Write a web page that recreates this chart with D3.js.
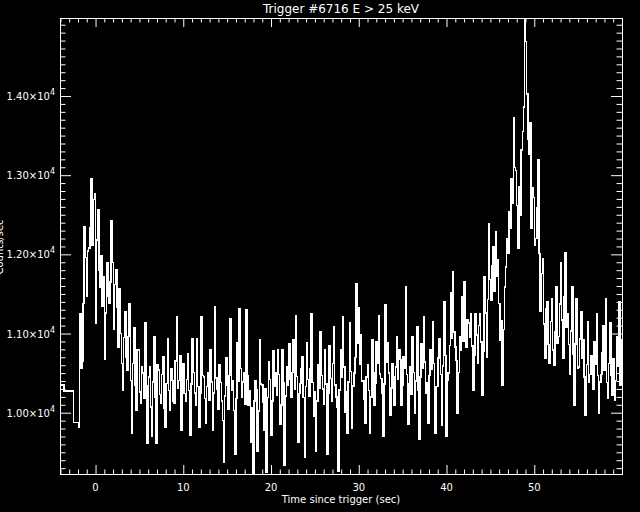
<!DOCTYPE html>
<html>
<head>
<meta charset="utf-8">
<script src="https://cdn.jsdelivr.net/npm/d3@7"></script>
<style>
  body { margin: 0; background: #000; }
  svg { display: block; }
</style>
</head>
<body>
<script>
// chart text
var title = "Trigger #6716 E > 25 keV";
var xTitle = "Time since trigger (sec)";
var yTitle = "Counts/sec";

// axis ticks
var xMajor = [0, 10, 20, 30, 40, 50];
var yMajor = [10000, 11000, 12000, 13000, 14000];
var yLabels = ["1.00", "1.10", "1.20", "1.30", "1.40"];
var xRange = [-4.05, 60];

// coarse bins before the trigger (edges in sec)
var preEdges = [-4.05, -3.62, -2.52, -1.96, -1.80];
var preCounts = [10350, 10274, 9879, 9811];

// fine bins, 0.128 s wide, starting at -1.80 s
var binStart = -1.80;
var binWidth = 0.128;
var counts1 = [ // -1.8 .. 10.2 s
  11250, 10560, 10650, 11380, 12350, 11960, 11470, 12040, 12080, 12330,
  12950, 12120, 12690, 12770, 11130, 12180, 12560, 11800, 11590, 11980,
  11340, 11720, 10670, 11260, 11890, 11470, 11380, 11650, 12420, 11900,
  11050, 11620, 11800, 11330, 10830, 11560, 11000, 10620, 10290, 10950,
  11280, 10700, 10540, 10960, 11380, 10410, 9740, 10620, 11070, 10350,
  10030, 10790, 10790, 10260, 10120, 10580, 10500, 10180, 11130, 10340,
  9610, 10450, 10580, 10070, 9700, 10390, 10960, 10200, 9610, 10610,
  10540, 10230, 10120, 10480, 10710, 10060, 9820, 10370, 10940, 10280,
  10030, 10560, 10410, 10150, 10120, 10650, 11210, 10310, 10410, 10720,
  9780, 10430, 10620, 10240];
var counts2 = [ // 10.2 .. 22.8 s
  10150, 10420, 10750, 10280, 9720, 10360, 10940, 10510, 10250, 10090,
  10940, 10330, 9820, 10240, 11210, 10470, 10450, 10180, 9870, 10330,
  10500, 10160, 10790, 10390, 9780, 10250, 11340, 10440, 10300, 10050,
  10600, 10380, 10150, 9900, 9380, 10210, 10690, 10350, 10050, 10470,
  11190, 10290, 10400, 10030, 9470, 10180, 10880, 10400, 11310, 10560,
  10200, 10390, 10500, 10110, 11300, 10470, 10100, 10280, 9630, 10060,
  9226, 10150, 10410, 10290, 9510, 10020, 10920, 10360, 10350, 10130,
  9780, 10300, 9250, 10190, 10640, 10420, 9720, 10150, 10780, 10330,
  10500, 10220, 10800, 10480, 9860, 10100, 10800, 10380, 9340, 10210,
  10580, 10350, 10870, 10420, 10200, 10510, 10920, 10300];
var counts3 = [ // 22.8 .. 35.3 s
  11230, 10460, 9630, 10240, 10370, 10560, 10710, 10190, 9440, 10330,
  10880, 10420, 10210, 10550, 11250, 10380, 9950, 10260, 9510, 10150,
  10600, 10310, 11020, 10470, 10300, 10110, 10790, 10360, 9470, 10240,
  10850, 10430, 10150, 10620, 11090, 10350, 10200, 10070, 9255, 10290,
  10790, 10450, 11210, 10580, 10000, 10260, 9740, 10390, 11130, 10520,
  9800, 10340, 10500, 10700, 11630, 10880, 11320, 10610, 10980, 10400,
  10400, 10170, 9870, 10450, 10600, 10280, 9740, 10200, 10920, 10510,
  10100, 10370, 10900, 10620, 11230, 10490, 10430, 10250, 9700, 10360,
  11360, 10640, 10880, 10500, 9970, 10310, 10620, 10460, 10100, 10580,
  10960, 10420, 10800, 10670, 10100, 10350, 10710, 10560];
var counts4 = [ // 35.3 .. 47.9 s
  11590, 10480, 9850, 10360, 10580, 10230, 10960, 10510, 9990, 10400,
  11090, 10290, 9670, 10450, 10870, 10560, 11210, 10640, 10240, 10380,
  9870, 10470, 10800, 10550, 11150, 10620, 9740, 10330, 10330, 10690,
  10940, 10480, 9840, 10590, 11400, 10720, 9700, 10410, 10500, 10850,
  11510, 10940, 11780, 11020, 10830, 10660, 9990, 10510, 10960, 10790,
  11460, 10900, 11650, 11080, 10830, 11170, 11130, 10950, 11250, 10840,
  10290, 10720, 11250, 10980, 10620, 11100, 11250, 10890, 10220, 10780,
  11720, 11260, 10700, 11430, 12390, 11680, 11420, 11850, 12100, 11530,
  12290, 11720, 11930, 11380, 10920, 11160, 10350, 11050, 11590, 11840,
  12200, 12010, 12540, 12330, 12960, 12650, 13720, 13100];
var counts5 = [ // 47.9 .. 60.1 s
  13060, 12620, 12080, 12850, 12500, 13320, 13550, 13860, 14985, 14690,
  14025, 13450, 13270, 13660, 12330, 12840, 12720, 12120, 12200, 12590,
  13190, 12010, 11280, 11760, 11950, 11120, 10690, 11310, 11400, 10860,
  10620, 11150, 11440, 10790, 10600, 11020, 11590, 10880, 10960, 11370,
  11890, 11170, 10690, 11460, 12020, 11080, 11250, 10860, 10480, 11030,
  11590, 10740, 10100, 10870, 11440, 10560, 10580, 10930, 11280, 10690,
  10920, 10450, 9970, 10610, 11150, 10380, 10480, 10720, 10560, 10300,
  10900, 10610, 11250, 10470, 9990, 10390, 10480, 10760, 11100, 10540,
  11440, 10380, 10180, 10620, 11130, 10470, 10220, 10680, 10160, 10410,
  10960, 10590, 11400, 10350, 10920, 10550];

function draw_graph() {
  var width = 640, height = 512;
  var margin = { top: 18, right: 18, bottom: 38, left: 60 };
  var w = width - margin.left - margin.right;
  var h = height - margin.top - margin.bottom;

  // step points (bin start + value), closed with the last bin end
  var pts = [];
  for (var i = 0; i < preCounts.length; i++) {
    pts.push({ t: preEdges[i], v: preCounts[i] });
  }
  var fine = counts1.concat(counts2, counts3, counts4, counts5);
  for (var j = 0; j < fine.length; j++) {
    pts.push({ t: binStart + j * binWidth, v: fine[j] });
  }
  pts.push({ t: binStart + fine.length * binWidth, v: fine[fine.length - 1] });

  var svg = d3.select("body").append("svg")
    .attr("width", width)
    .attr("height", height)
    .style("background", "#000");

  var xScale = d3.scaleLinear().domain(xRange).range([0, w]);
  var yScale = d3.scaleLinear()
    .domain([d3.min(pts, d => d.v), d3.max(pts, d => d.v)])
    .range([h, 0]);

  var g = svg.append("g")
    .attr("transform", "translate(" + margin.left + "," + margin.top + ")");

  g.append("clipPath").attr("id", "clip")
    .append("rect").attr("width", w).attr("height", h);

  var line = d3.line()
    .x(d => xScale(d.t))
    .y(d => yScale(d.v))
    .curve(d3.curveStepAfter);

  g.append("path")
    .datum(pts)
    .attr("clip-path", "url(#clip)")
    .attr("fill", "none")
    .attr("stroke", "#fff")
    .attr("stroke-width", 1.5)
    .attr("shape-rendering", "crispEdges")
    .attr("d", line);

  // ticks: major + minor on all four sides, pointing inward
  var xMinor = d3.range(-4, 61, 1).filter(d => d % 10 != 0);
  var yMinor = d3.range(9300, 15000, 100).filter(d => d % 1000 != 0);

  function tickAxis(axis, vals, size, tr) {
    var a = g.append("g")
      .attr("transform", tr)
      .attr("color", "#fff")
      .call(axis.tickValues(vals).tickSizeInner(size).tickSizeOuter(0).tickFormat(""));
    a.select(".domain").remove();
    return a;
  }
  tickAxis(d3.axisBottom(xScale), xMajor, -9, "translate(0," + h + ")");
  tickAxis(d3.axisBottom(xScale), xMinor, -4.5, "translate(0," + h + ")");
  tickAxis(d3.axisTop(xScale), xMajor, -9, "translate(0,0)");
  tickAxis(d3.axisTop(xScale), xMinor, -4.5, "translate(0,0)");
  tickAxis(d3.axisLeft(yScale), yMajor, -11, "translate(0,0)");
  tickAxis(d3.axisLeft(yScale), yMinor, -5.5, "translate(0,0)");
  tickAxis(d3.axisRight(yScale), yMajor, -11, "translate(" + w + ",0)");
  tickAxis(d3.axisRight(yScale), yMinor, -5.5, "translate(" + w + ",0)");

  // frame
  g.append("rect")
    .attr("x", 0.5).attr("y", 0.5)
    .attr("width", w).attr("height", h)
    .attr("fill", "none")
    .attr("stroke", "#fff")
    .attr("stroke-width", 1);

  var font = "DejaVu Sans, sans-serif";

  // x tick labels
  g.selectAll(".xlab")
    .data(xMajor)
    .enter().append("text")
    .attr("x", d => xScale(d))
    .attr("y", h + 17)
    .attr("text-anchor", "middle")
    .attr("fill", "#fff")
    .style("font-family", font)
    .style("font-size", "10px")
    .text(d => d);

  // y tick labels like 1.40x10^4
  var ylab = g.selectAll(".ylab")
    .data(yMajor)
    .enter().append("text")
    .attr("x", -5)
    .attr("y", d => yScale(d) + 4)
    .attr("text-anchor", "end")
    .attr("fill", "#fff")
    .style("font-family", font)
    .style("font-size", "10px");
  ylab.append("tspan").text((d, i) => yLabels[i] + "\u00d710");
  ylab.append("tspan").attr("dy", -5).style("font-size", "8px").text("4");

  // titles
  svg.append("text")
    .attr("x", margin.left + w / 2)
    .attr("y", 13)
    .attr("text-anchor", "middle")
    .attr("fill", "#fff")
    .style("font-family", font)
    .style("font-size", "12px")
    .text(title);

  svg.append("text")
    .attr("x", margin.left + w / 2)
    .attr("y", margin.top + h + 29)
    .attr("text-anchor", "middle")
    .attr("fill", "#fff")
    .style("font-family", font)
    .style("font-size", "10px")
    .text(xTitle);

  // y title sits mostly off the left edge, as in the original plot
  svg.append("text")
    .attr("transform", "translate(3,247) rotate(-90)")
    .attr("text-anchor", "middle")
    .attr("fill", "#fff")
    .style("font-family", font)
    .style("font-size", "10px")
    .text(yTitle);
}

draw_graph();
</script>
</body>
</html>
